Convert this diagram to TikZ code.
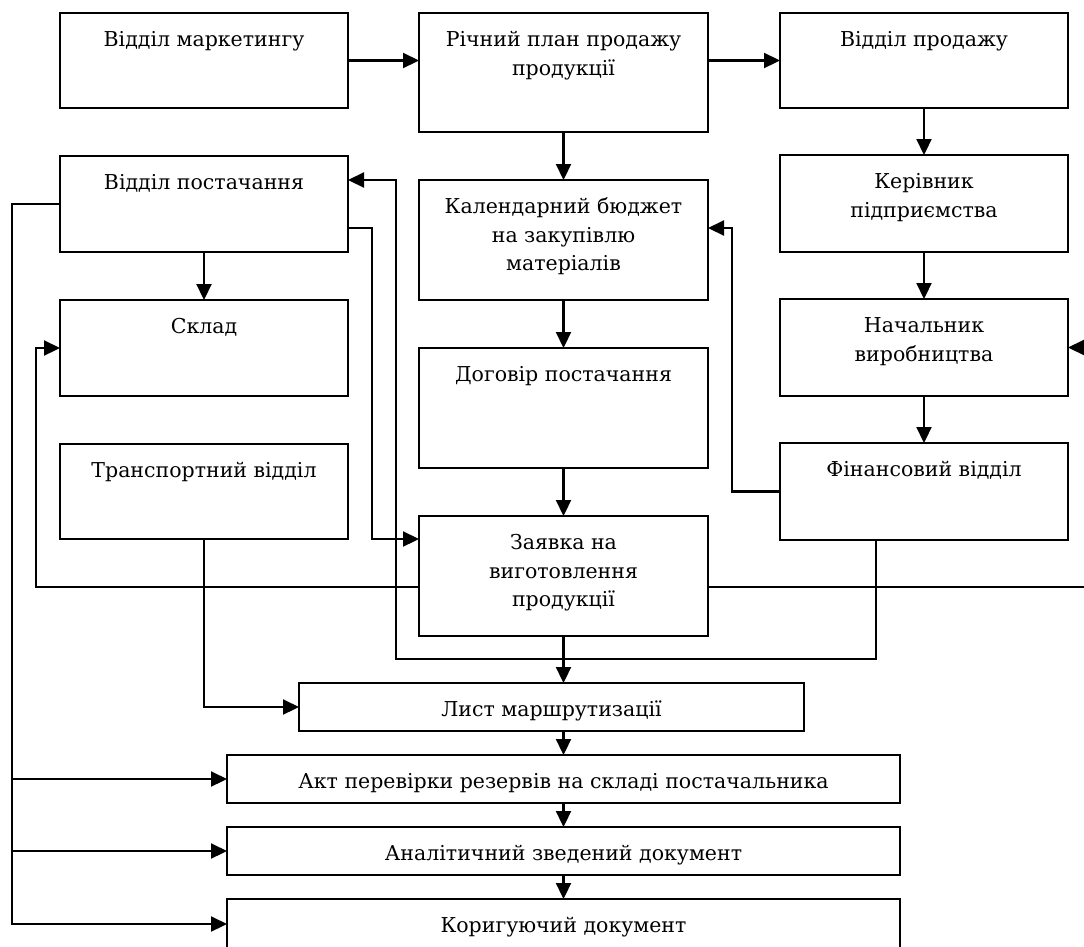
\documentclass[tikz,border=0pt]{standalone}
\usepackage{fontspec}
\setmainfont{DejaVu Serif}
\usetikzlibrary{arrows.meta}
\newcommand\bx[6]{\node[bxs, anchor=north west] (#1) at (#2,-#3) {\parbox[c][\dimexpr #5pt-#3pt\relax][t]{\dimexpr #4pt-#2pt\relax}{\centering\rule{0pt}{33.5pt}#6\par}};}
\begin{document}
\begin{tikzpicture}[x=1pt,y=1pt,
  bxs/.style={draw, line width=2.4pt, inner sep=0pt, outer sep=0pt, rectangle, font=\fontsize{20.5}{28.5}\selectfont},
  arr/.style={line width=2.2pt, -{Triangle[length=16pt,width=15pt]}}]
\useasboundingbox (0,0) rectangle (1084,-946);
\bx{mkt}{60}{13}{348}{108}{Відділ маркетингу}
\bx{plan}{419}{13}{708}{132}{Річний план продажу\\продукції}
\bx{sales}{780}{13}{1068}{108}{Відділ продажу}
\bx{supply}{60}{156}{348}{252}{Відділ постачання}
\bx{budget}{419}{180}{708}{300}{Календарний бюджет\\на закупівлю\\матеріалів}
\bx{head}{780}{155}{1068}{252}{Керівник\\підприємства}
\bx{store}{60}{300}{348}{396}{Склад}
\bx{contract}{419}{348}{708}{468}{Договір постачання}
\bx{prodhead}{780}{299}{1068}{396}{Начальник\\виробництва}
\bx{transport}{60}{444}{348}{539}{Транспортний відділ}
\bx{order}{419}{516}{708}{636}{Заявка на\\виготовлення\\продукції}
\bx{finance}{780}{443}{1068}{540}{Фінансовий відділ}
\bx{route}{299}{683}{804}{731}{Лист маршрутизації}
\bx{check}{227}{755}{900}{803}{Акт перевірки резервів на складі постачальника}
\bx{summary}{227}{827}{900}{875}{Аналітичний зведений документ}
\bx{correct}{227}{899}{900}{949}{Коригуючий документ}
\coordinate (lx) at (12,0);
% top row
\draw[arr] (mkt.east) -- (plan.west |- mkt.east);
\draw[arr] (plan.east |- sales.west) -- (sales.west);
% right column
\draw[arr] (sales.south) -- (head.north);
\draw[arr] (head.south) -- (prodhead.north);
\draw[arr] (prodhead.south) -- (finance.north);
% centre column
\draw[arr] (plan.south) -- (budget.north);
\draw[arr] (budget.south) -- (contract.north);
\draw[arr] (contract.south) -- (order.north);
\draw[arr] (order.south) -- (order.south |- route.north);
\draw[arr] (order.south |- route.south) -- (order.south |- check.north);
\draw[arr] (check.south) -- (summary.north);
\draw[arr] (summary.south) -- (correct.north);
% left column
\draw[arr] (supply.south) -- (store.north);
\draw[arr] (transport.south) |- (route.west);
\draw[arr] (supply.west) -| (lx |- correct.west) -- (correct.west);
\draw[arr] (lx |- check.west) -- (check.west);
\draw[arr] (lx |- summary.west) -- (summary.west);
% crossing connectors
\draw[arr] ([yshift=-24pt]supply.east) -- ++(24,0) |- ([yshift=37pt]order.west);
\draw[arr] (finance.west) -- ++(-48,0) |- ([yshift=12pt]budget.east);
\draw[arr] ([xshift=-48pt]finance.south) |- (396,-659) |- ([yshift=24pt]supply.east);
\draw[arr] ([yshift=-11pt]order.west) -- (36,-587) |- (store.west);
\draw[arr] ([yshift=-11pt]order.east) -- (1092,-587) |- (prodhead.east);
\end{tikzpicture}
\end{document}
